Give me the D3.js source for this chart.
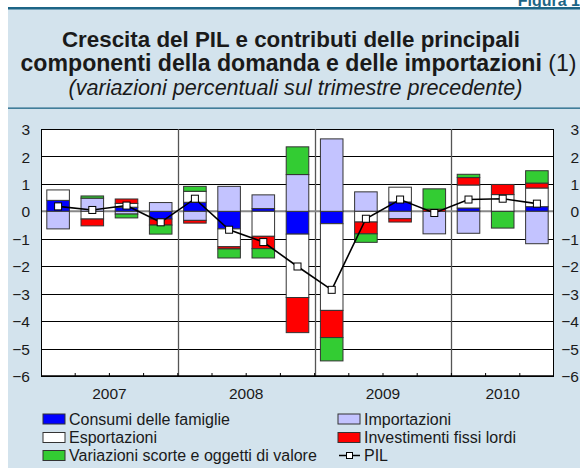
<!DOCTYPE html>
<html>
<head>
<meta charset="utf-8">
<script src="https://cdn.jsdelivr.net/npm/d3@7"></script>
<style>
  body { margin: 0; background: #fff; }
  svg { display: block; font-family: "Liberation Sans", Arial, sans-serif; }
</style>
</head>
<body>
<div id="chart"></div>
<script>
// quarters shown on the x axis (2007 Q1 .. 2010 Q3)
const quarters = ["2007Q1","2007Q2","2007Q3","2007Q4","2008Q1","2008Q2","2008Q3","2008Q4",
                  "2009Q1","2009Q2","2009Q3","2009Q4","2010Q1","2010Q2","2010Q3"];
const years = ["2007", "2008", "2009", "2010"];
const yTicks = [3, 2, 1, 0, -1, -2, -3, -4, -5, -6];

// contributions (percentage points)
const consumi      = [0.40, 0.00, 0.15, -0.28, 0.33, -0.64, 0.10, -0.83, -0.45, 0.00, 0.34, 0.00, 0.12, 0.00, 0.17];
const importazioni = [-0.64, 0.48, -0.10, 0.32, -0.33, 0.91, 0.50, 1.34, 2.64, 0.71, -0.27, -0.82, -0.80, 0.00, -1.18];
const esportazioni = [0.38, -0.28, 0.14, 0.00, 0.40, -0.65, -0.91, -2.31, -3.16, -0.39, 0.54, 0.00, 0.84, 0.61, 0.68];
const investimenti = [0.00, -0.25, 0.16, -0.22, -0.10, -0.08, -0.45, -1.28, -0.99, -0.43, -0.12, 0.08, 0.27, 0.37, 0.18];
const scorte       = [0.00, 0.08, -0.14, -0.33, 0.18, -0.33, -0.34, 1.01, -0.85, -0.31, 0.00, 0.74, 0.12, -0.61, 0.45];
const pil          = [0.18, 0.05, 0.21, -0.40, 0.46, -0.67, -1.12, -2.01, -2.86, -0.27, 0.43, -0.06, 0.43, 0.46, 0.28];

const W = 580, H = 468;
const plot = {left: 41, right: 554, top: 129, bottom: 376};

const svg = d3.select("#chart").append("svg").attr("width", W).attr("height", H);

// scale a text's font size so it spans the given width
const fitWidth = (sel, target) => {
  const fs = parseFloat(sel.style("font-size"));
  const w = sel.node().getComputedTextLength();
  sel.style("font-size", (fs * target / w).toFixed(2) + "px");
};

//****************************************************************************
// panel and header
svg.append("rect").attr("x", 8).attr("y", 8).attr("width", W - 8).attr("height", H - 8)
  .style("fill", "#d3e3ed");
svg.append("rect").attr("x", 8).attr("y", 7).attr("width", W - 8).attr("height", 2.5)
  .style("fill", "#1d6586");
svg.append("rect").attr("x", 8).attr("y", 107.5).attr("width", W - 8).attr("height", 1.3)
  .style("fill", "#1d6586");

svg.append("text").attr("x", 580).attr("y", 5.5)
  .style("text-anchor", "end").style("font-weight", "bold").style("font-size", "16px")
  .style("fill", "#1d6586").text("Figura 1");

const title = svg.append("g").style("fill", "#1a1a1a");
const t1 = title.append("text").attr("x", 291).attr("y", 47).style("text-anchor", "middle")
  .style("font-weight", "bold").style("font-size", "20px")
  .text("Crescita del PIL e contributi delle principali");
fitWidth(t1, 458);
const t2 = title.append("text").attr("x", 298.5).attr("y", 71).style("text-anchor", "middle")
  .style("font-size", "20px");
t2.append("tspan").style("font-weight", "bold").text("componenti della domanda e delle importazioni");
t2.append("tspan").text(" (1)");
fitWidth(t2, 556);
const t3 = title.append("text").attr("x", 295.5).attr("y", 95).style("text-anchor", "middle")
  .style("font-style", "italic").style("font-size", "18px")
  .text("(variazioni percentuali sul trimestre precedente)");
fitWidth(t3, 454);

//****************************************************************************
// scales
const x = d3.scaleBand().domain(quarters).range([plot.left, plot.right])
  .paddingInner(0.34).paddingOuter(0.17);
const y = d3.scaleLinear().domain([-6, 3]).range([plot.bottom, plot.top]);
const step = x.step();
const qStart = q => x(q) - step * 0.17;

svg.append("rect").attr("x", plot.left).attr("y", plot.top)
  .attr("width", plot.right - plot.left).attr("height", plot.bottom - plot.top)
  .style("fill", "#fff");

// horizontal grid
svg.append("g").selectAll("line").data(yTicks.filter(d => d !== 0)).enter().append("line")
  .attr("x1", plot.left).attr("x2", plot.right)
  .attr("y1", d => Math.round(y(d)) + 0.5).attr("y2", d => Math.round(y(d)) + 0.5)
  .style("stroke", "#000").style("stroke-width", 1);

// year separators
svg.append("g").selectAll("line").data(years.slice(1)).enter().append("line")
  .attr("x1", d => Math.round(qStart(d + "Q1")) + 0.5).attr("x2", d => Math.round(qStart(d + "Q1")) + 0.5)
  .attr("y1", plot.top).attr("y2", plot.bottom)
  .style("stroke", "#555").style("stroke-width", 1.3);

// zero line
svg.append("line").attr("x1", plot.left).attr("x2", plot.right)
  .attr("y1", y(0)).attr("y2", y(0))
  .style("stroke", "#888").style("stroke-width", 2);

// frame left/right/bottom
svg.append("line").attr("x1", plot.left + 0.5).attr("x2", plot.left + 0.5)
  .attr("y1", plot.top).attr("y2", plot.bottom).style("stroke", "#000");
svg.append("line").attr("x1", plot.right - 0.5).attr("x2", plot.right - 0.5)
  .attr("y1", plot.top).attr("y2", plot.bottom).style("stroke", "#000");
svg.append("line").attr("x1", plot.left).attr("x2", plot.right)
  .attr("y1", plot.bottom).attr("y2", plot.bottom).style("stroke", "#000").style("stroke-width", 1.5);

// quarter ticks on bottom axis
svg.append("g").selectAll("line").data(quarters.slice(1)).enter().append("line")
  .attr("x1", d => qStart(d)).attr("x2", d => qStart(d))
  .attr("y1", plot.bottom).attr("y2", plot.bottom - 3)
  .style("stroke", "#000");

// y axes labels (left and right)
const yAxisL = d3.axisLeft(y).tickValues(yTicks).tickSize(0).tickPadding(0);
const gL = svg.append("g").attr("transform", "translate(30,0)").call(yAxisL);
const yAxisR = d3.axisLeft(y).tickValues(yTicks).tickSize(0).tickPadding(0);
const gR = svg.append("g").attr("transform", "translate(579,0)").call(yAxisR);
[gL, gR].forEach(g => {
  g.select(".domain").remove();
  g.selectAll("text").style("font-size", "15.5px").style("fill", "#1a1a1a")
    .style("font-family", "'Liberation Sans', Arial, sans-serif").attr("dy", "0.36em");
});

// year labels
svg.append("g").selectAll("text").data(years).enter().append("text")
  .attr("x", d => {
    const qs = quarters.filter(q => q.startsWith(d));
    return (qStart(qs[0]) + qStart(qs[qs.length - 1]) + step) / 2;
  })
  .attr("y", 398.5).style("text-anchor", "middle").style("font-size", "15.5px").style("fill", "#1a1a1a")
  .text(d => d);

//****************************************************************************
// stacked bars
const keys = ["consumi", "importazioni", "esportazioni", "investimenti", "scorte"];
const colors = {consumi: "#0000ff", importazioni: "#c3c3ff", esportazioni: "#ffffff",
                investimenti: "#ff0000", scorte: "#33cc33"};
const table = quarters.map((q, i) => ({
  q: q, consumi: consumi[i], importazioni: importazioni[i], esportazioni: esportazioni[i],
  investimenti: investimenti[i], scorte: scorte[i]
}));
const series = d3.stack().keys(keys).offset(d3.stackOffsetDiverging)(table);

svg.append("g").selectAll("g").data(series).enter().append("g")
  .style("fill", d => colors[d.key])
  .selectAll("rect").data(d => d.filter(s => s[1] - s[0] !== 0)).enter().append("rect")
  .attr("x", d => x(d.data.q))
  .attr("width", x.bandwidth())
  .attr("y", d => y(Math.max(d[0], d[1])))
  .attr("height", d => Math.abs(y(d[0]) - y(d[1])))
  .style("stroke", "#333").style("stroke-width", 1);

// PIL line
const line = d3.line().x((d, i) => x(quarters[i]) + x.bandwidth() / 2).y(d => y(d));
svg.append("path").datum(pil).attr("d", line)
  .style("fill", "none").style("stroke", "#000").style("stroke-width", 1.6);
svg.append("g").selectAll("rect").data(pil).enter().append("rect")
  .attr("x", (d, i) => x(quarters[i]) + x.bandwidth() / 2 - 3.5)
  .attr("y", d => y(d) - 3.5)
  .attr("width", 7).attr("height", 7)
  .style("fill", "#fff").style("stroke", "#000").style("stroke-width", 1);

//****************************************************************************
// legend
const legendItems = [
  {label: "Consumi delle famiglie", key: "consumi", col: 0, row: 0},
  {label: "Esportazioni", key: "esportazioni", col: 0, row: 1},
  {label: "Variazioni scorte e oggetti di valore", key: "scorte", col: 0, row: 2},
  {label: "Importazioni", key: "importazioni", col: 1, row: 0},
  {label: "Investimenti fissi lordi", key: "investimenti", col: 1, row: 1},
  {label: "PIL", key: "pil", col: 1, row: 2}
];
const colX = [43, 338];
const rowY = [419, 437.5, 455.5];
const lg = svg.append("g").selectAll("g").data(legendItems).enter().append("g")
  .attr("transform", d => `translate(${colX[d.col]},${rowY[d.row]})`);
lg.filter(d => d.key !== "pil").append("rect")
  .attr("x", 0).attr("y", -5).attr("width", 22).attr("height", 10)
  .style("fill", d => colors[d.key]).style("stroke", "#333").style("stroke-width", 1);
lg.filter(d => d.key === "pil").append("line")
  .attr("x1", 1).attr("x2", 22).attr("y1", 0).attr("y2", 0)
  .style("stroke", "#000").style("stroke-width", 1.5);
lg.filter(d => d.key === "pil").append("rect")
  .attr("x", 8.5).attr("y", -3).attr("width", 6).attr("height", 6)
  .style("fill", "#fff").style("stroke", "#000");
lg.append("text").attr("x", 26).attr("y", 0).attr("dy", "0.36em")
  .style("font-size", "16px").style("fill", "#1a1a1a")
  .text(d => d.label);
</script>
</body>
</html>
